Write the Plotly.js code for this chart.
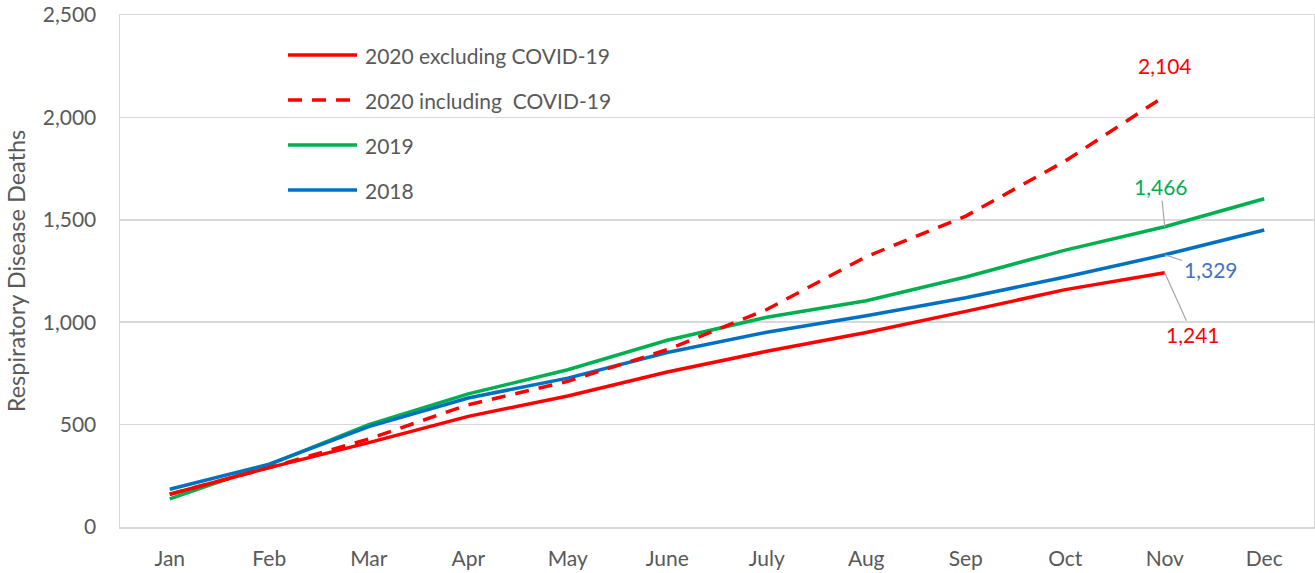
<!DOCTYPE html>
<html>
<head>
<meta charset="utf-8">
<script src="https://cdn.plot.ly/plotly-3.0.1.min.js"></script>
<style>html,body{margin:0;padding:0;background:#fff;}#chart{width:1315px;height:573px;}</style>
</head>
<body>
<div id="chart"></div>
<script>
const months = ["Jan","Feb","Mar","Apr","May","June","July","Aug","Sep","Oct","Nov","Dec"];
const excl2020 = [160, 290, 412, 540, 640, 757, 858, 950, 1053, 1159, 1241];
const incl2020 = [160, 290, 430, 597, 711, 866, 1062, 1320, 1518, 1787, 2104];
const y2019 = [137, 305, 500, 650, 768, 912, 1024, 1105, 1221, 1352, 1466, 1603];
const y2018 = [184, 307, 490, 630, 727, 852, 951, 1032, 1119, 1221, 1329, 1450];
const seriesNames = ["2020 excluding COVID-19", "2020 including\u00a0 COVID-19", "2019", "2018"];

const RED = "#FF0000", GREEN = "#00B050", BLUE = "#0070C0";
const FONT = "Lato, 'Open Sans', sans-serif";
const GREY = "#595959";
const FS = 21;

const traces = [
  {x: months, y: y2019, name: seriesNames[2], mode: "lines", line: {color: GREEN, width: 3.5}},
  {x: months, y: y2018, name: seriesNames[3], mode: "lines", line: {color: BLUE, width: 3.5}},
  {x: months.slice(0, incl2020.length), y: incl2020, name: seriesNames[1], mode: "lines", line: {color: RED, width: 3.5, dash: "14px,10px"}},
  {x: months.slice(0, excl2020.length), y: excl2020, name: seriesNames[0], mode: "lines", line: {color: RED, width: 3.5}}
];

// manual legend (pixel rows converted to paper coords)
const W = 1315, H = 573, ML = 120, MR = 1, MT = 15, MB = 46;
const pw = W - ML - MR, ph = H - MT - MB;
const px = v => (v - ML) / pw;
const py = v => (H - MB - v) / ph;
const legRows = [55, 100, 145, 190];
const legStyle = [
  {color: RED, dash: "solid"},
  {color: RED, dash: "14px,10px"},
  {color: GREEN, dash: "solid"},
  {color: BLUE, dash: "solid"}
];
const shapes = [];
const annotations = [];
[0, 1, 2, 3].forEach((s, i) => {
  shapes.push({type: "line", xref: "paper", yref: "paper",
    x0: px(288), x1: px(357), y0: py(legRows[i]), y1: py(legRows[i]),
    line: {color: legStyle[i].color, width: 3.5, dash: legStyle[i].dash}});
  annotations.push({xref: "paper", yref: "paper", x: px(363), y: py(legRows[i]),
    xanchor: "left", yanchor: "middle", showarrow: false, text: seriesNames[s],
    font: {family: FONT, size: FS, color: GREY}});
});

const fmt = v => v.toLocaleString("en-US");
const nov = 10;
annotations.push(
  {x: months[nov], y: incl2020[nov], text: fmt(incl2020[nov]), showarrow: false, yshift: 31,
   font: {family: FONT, size: FS, color: RED}},
  {x: months[nov], y: y2019[nov], text: fmt(y2019[nov]), showarrow: true, arrowhead: 0, arrowwidth: 1.2,
   arrowcolor: "#A6A6A6", ax: -4, ay: -40, font: {family: FONT, size: FS, color: GREEN}},
  {x: months[nov], y: y2018[nov], text: fmt(y2018[nov]), showarrow: true, arrowhead: 0, arrowwidth: 1.2,
   arrowcolor: "#A6A6A6", ax: 46, ay: 15, font: {family: FONT, size: FS, color: "#4472C4"}},
  {x: months[nov], y: excl2020[nov], text: fmt(excl2020[nov]), showarrow: true, arrowhead: 0, arrowwidth: 1.2,
   arrowcolor: "#A6A6A6", ax: 28, ay: 62, font: {family: FONT, size: FS, color: RED}}
);

const layout = {
  width: W, height: H,
  margin: {l: ML, r: MR, t: MT, b: MB},
  paper_bgcolor: "#fff", plot_bgcolor: "#fff",
  showlegend: false,
  font: {family: FONT, size: FS, color: GREY},
  xaxis: {
    type: "category", categoryorder: "array", categoryarray: months,
    range: [-0.5, 11.5], showgrid: false, zeroline: false,
    showline: true, mirror: true, linecolor: "#D9D9D9", linewidth: 1.5,
    ticks: "", ticklabelstandoff: 12,
    tickfont: {family: FONT, size: FS, color: GREY}
  },
  yaxis: {
    range: [0, 2500], dtick: 500, tick0: 0, tickformat: ",",
    showgrid: true, gridcolor: "#D9D9D9", gridwidth: 1.5, zeroline: false,
    showline: true, mirror: true, linecolor: "#D9D9D9", linewidth: 1.5,
    ticks: "", ticklabelstandoff: 18,
    tickfont: {family: FONT, size: FS, color: GREY},
    title: {text: "Respiratory Disease Deaths", font: {family: FONT, size: 23.5, color: GREY}, standoff: 10}
  },
  shapes: shapes,
  annotations: annotations
};

Plotly.newPlot("chart", traces, layout, {displayModeBar: false, staticPlot: true});
</script>
</body>
</html>
